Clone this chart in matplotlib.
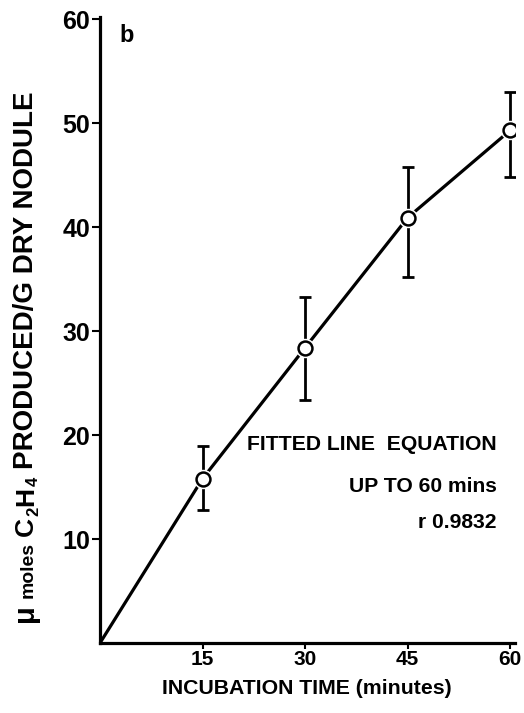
import matplotlib
matplotlib.use("Agg")
import matplotlib.pyplot as plt

# incubation time (minutes) vs umoles C2H4 produced / g dry nodule
times = [15, 30, 45, 60]
ethylene = [15.8, 28.4, 40.9, 49.3]
err_low = [12.8, 23.4, 35.2, 44.8]
err_high = [18.9, 33.3, 45.8, 53.0]
origin = (0, 0)
xtick_vals = [15, 30, 45, 60]
ytick_vals = [10, 20, 30, 40, 50, 60]
annot_lines = ["FITTED LINE  EQUATION", "UP TO 60 mins", "r 0.9832"]

plt.rcParams["font.family"] = ["Liberation Sans", "DejaVu Sans"]

W, H = 524, 713
fig = plt.figure(figsize=(W / 100, H / 100), dpi=100)
ax = fig.add_axes([100 / W, 70 / H, 415 / W, 626 / H])

ax.plot([origin[0]] + times, [origin[1]] + ethylene, color="black", lw=2.3,
        zorder=2, solid_capstyle="round")
yerr = [[v - lo for v, lo in zip(ethylene, err_low)],
        [hi - v for v, hi in zip(ethylene, err_high)]]
ax.errorbar(times, ethylene, yerr=yerr, fmt="none", ecolor="black",
            elinewidth=2, capsize=4, capthick=2, zorder=3)
ax.plot(times, ethylene, "o", ms=13, mfc="white", mec="white", zorder=4)
ax.plot(times, ethylene, "o", ms=10, mfc="white", mec="black", mew=1.8, zorder=5)

ax.set_xlim(0, 60.7)
ax.set_ylim(0, 60.2)
for s in ["top", "right"]:
    ax.spines[s].set_visible(False)
for s in ["left", "bottom"]:
    ax.spines[s].set_linewidth(2.3)

ax.set_xticks(xtick_vals)
ax.set_yticks(ytick_vals)
ax.set_xticklabels([str(v) for v in xtick_vals], fontsize=15, fontweight="bold")
ax.set_yticklabels([str(v) for v in ytick_vals], fontsize=18, fontweight="bold")
ax.tick_params(axis="x", direction="out", length=4, width=1.5, pad=1)
ax.tick_params(axis="y", direction="out", length=6, width=1.5, pad=1)

fig.text(0.5 * (162 + 452) / W, 1 - 688 / H, "INCUBATION TIME (minutes)",
         fontsize=15.3, fontweight="bold", ha="center", va="center")

fig.text(127 / W, 1 - 35 / H, "b", fontsize=17, fontweight="bold",
         ha="center", va="center")

for txt, yc in zip(annot_lines, [445, 487, 523]):
    fig.text(497 / W, 1 - yc / H, txt, fontsize=15.2, fontweight="bold",
             ha="right", va="center")

# rotated y label built from pieces (smaller "moles", subscripts)
# (text, fontsize, baseline shift px, gap after px)
ylab_pieces = [("\u03bc", 21, 0, 6), ("moles", 14, 0, 6), ("C", 19, 0, 1),
               ("2", 12, 5, 1), ("H", 19, 0, 1), ("4", 12, 5, 8),
               ("PRODUCED/G DRY NODULE", 20, 0, 0)]
renderer = fig.canvas.get_renderer()
base_x = 33
ybot, ytop = 622, 92


def place_ylabel(scale):
    texts = []
    ypos = ybot
    for txt, fs, off, gap in ylab_pieces:
        t = fig.text((base_x + off) / W, 1 - ypos / H, txt, fontsize=fs * scale,
                     fontweight="bold", rotation=90, rotation_mode="anchor",
                     ha="left", va="baseline")
        texts.append(t)
        ypos -= t.get_window_extent(renderer).height + gap
    return texts, ybot - ypos


texts, length = place_ylabel(1.0)
for t in texts:
    t.remove()
place_ylabel((ybot - ytop) / length)

fig.savefig("out.png", dpi=100)
